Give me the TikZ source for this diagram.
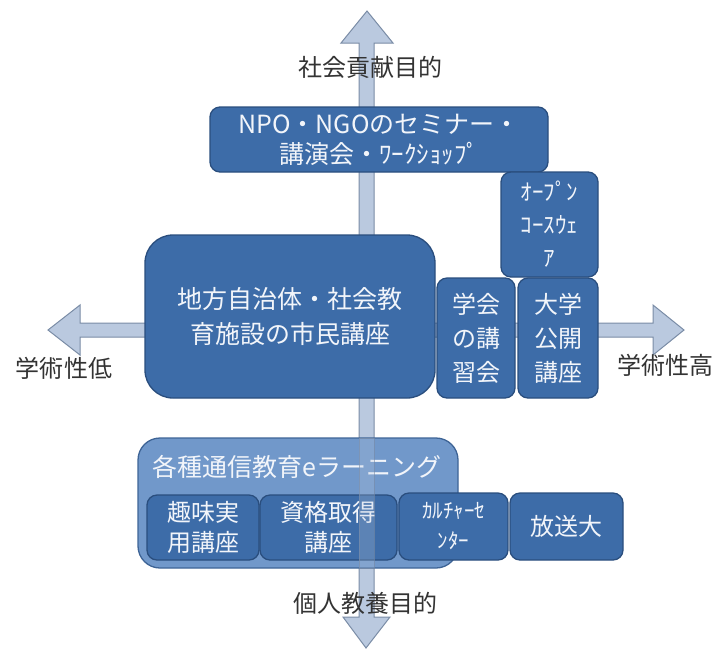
\documentclass[tikz,border=0pt]{standalone}
\usepackage{fontspec}
\newfontfamily\jp{Noto Sans CJK JP}
\definecolor{boxfill}{HTML}{3D6CA8}
\definecolor{boxdraw}{HTML}{2A4E7E}
\definecolor{elfill}{HTML}{7198CA}
\definecolor{eldraw}{HTML}{3E6496}
\definecolor{arrowfill}{HTML}{BAC9DF}
\definecolor{arrowdraw}{HTML}{7A8CA6}
\definecolor{labeltext}{HTML}{333333}
\definecolor{boxtext}{HTML}{F2F5FA}
\begin{document}
\begin{tikzpicture}[x=1pt,y=-1pt,
  axisarrow/.style={draw=arrowdraw, fill=arrowfill, line width=1pt, line join=miter},
  axislabel/.style={text=labeltext, font=\jp\fontsize{24}{28}\selectfont, inner sep=0pt},
  box/.style={draw=boxdraw, line width=1.3pt, fill=boxfill, rounded corners=10pt,
    text=boxtext, align=center, inner sep=0pt, font=\jp\fontsize{24}{34}\selectfont},
  subbox/.style={box, font=\jp\fontsize{24}{30}\selectfont}
]
\useasboundingbox (0,0) rectangle (719,649);

% horizontal axis
\draw[axisarrow] (48,330) -- (80,305) -- (80,323) -- (653,323) -- (653,305) -- (684,330)
  -- (653,355) -- (653,337) -- (80,337) -- (80,355) -- cycle;
% vertical axis
\draw[axisarrow] (367,11) -- (393,43) -- (374,43) -- (374,617) -- (390,617) -- (366,648)
  -- (343,617) -- (359,617) -- (359,43) -- (341,43) -- cycle;

% axis labels
\node[axislabel] (top) at (370,67) {社会貢献目的};
\node[axislabel] (left) at (64,368) {学術性低};
\node[axislabel, anchor=west] (right) at (617,365) {学術性高};
\node[axislabel] (bottom) at (365,603) {個人教養目的};

% upper boxes
\node[box, minimum width=338pt, minimum height=65pt, font=\jp\fontsize{25}{30}\selectfont] (npo) at (379,139.5)
  {NPO・NGOのセミナー・\\講演会・ﾜｰｸｼｮｯﾌﾟ};
\node[box, minimum width=97pt, minimum height=105pt, font=\jp\fontsize{23}{33}\selectfont] (ocw) at (549.5,224.5)
  {ｵｰﾌﾟﾝ\\ｺｰｽｳｪ\\ｱ};
\node[box, minimum width=290pt, minimum height=163pt, rounded corners=28pt, font=\jp\fontsize{25}{35}\selectfont] (chiho) at (290,316.5)
  {地方自治体・社会教\\育施設の市民講座};
\node[box, minimum width=78pt, minimum height=120pt] (gakkai) at (476,338)
  {学会\\の講\\習会};
\node[box, minimum width=80pt, minimum height=120pt] (univ) at (558,338)
  {大学\\公開\\講座};

% e-learning group
\node[box, draw=eldraw, fill=elfill, minimum width=320pt, minimum height=130pt, rounded corners=22pt] (el) at (298,503) {};
\node[text=boxtext, font=\jp\fontsize{25}{30}\selectfont, inner sep=0pt] (eltitle) at (297,467) {各種通信教育eラーニング};
\node[subbox, minimum width=112pt, minimum height=65pt] (shumi) at (203,527.5) {趣味実\\用講座};
\node[subbox, minimum width=137pt, minimum height=65pt] (shikaku) at (328.5,527.5) {資格取得\\講座};
\node[subbox, minimum width=109pt, minimum height=67pt, font=\jp\fontsize{21}{30}\selectfont] (culture) at (453.5,526.5) {ｶﾙﾁｬｰｾ\\ﾝﾀｰ};
\node[subbox, minimum width=113pt, minimum height=67pt] (hoso) at (566.5,526.5) {放送大};

% shaft showing through the e-learning group
\draw[draw=arrowdraw, fill=arrowfill, line width=1pt, fill opacity=0.25, draw opacity=0.6]
  (359,438) rectangle (374,568);
\end{tikzpicture}
\end{document}
